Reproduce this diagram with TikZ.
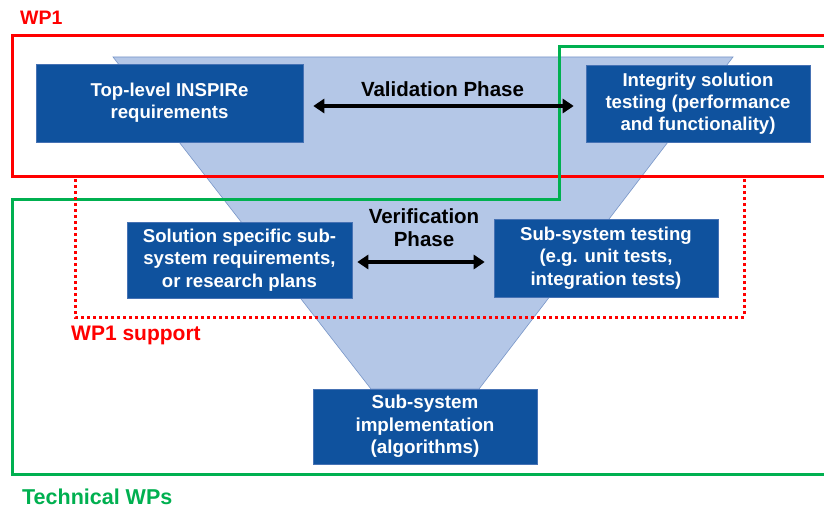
\documentclass[tikz,border=0pt]{standalone}
\usepackage{fontspec}
\setmainfont{Liberation Sans}
\usepackage{tikz}
\usetikzlibrary{arrows.meta, positioning}
\definecolor{wpred}{RGB}{255, 0, 0}
\definecolor{wpgreen}{RGB}{0, 176, 80}
\definecolor{boxblue}{RGB}{15, 82, 158}
\definecolor{boxedge}{RGB}{70, 114, 180}
\definecolor{vfill}{RGB}{180, 199, 231}
\definecolor{vedge}{RGB}{120, 150, 200}

\tikzset{
  wpbox/.style={fill=boxblue, draw=boxedge, line width=0.6pt, text=white, align=center,
    font=\bfseries\fontsize{18.6}{22.3}\selectfont, minimum width=224pt, minimum height=77pt, inner sep=1pt},
  phase/.style={font=\bfseries\fontsize{20.5}{23}\selectfont, align=center, inner sep=0pt},
  phasearrow/.style={line width=3.5pt, {Triangle[length=11pt,width=14pt]}-{Triangle[length=11pt,width=14pt]}},
  wplabel/.style={font=\bfseries\fontsize{21}{24}\selectfont, anchor=west, inner sep=0pt}
}

\begin{document}
\begin{tikzpicture}[x=1pt, y=-1pt]
  \clip (0,0) rectangle (824,508);
  \fill[white] (0,0) rectangle (824,508);
  % V funnel
  \filldraw[fill=vfill, draw=vedge, line width=0.6pt] (113,57) -- (733,57) -- (479,389) -- (371,389) -- cycle;
  % work package frames
  \draw[wpred, line width=3pt] (12,36) rectangle (840,176);
  \draw[wpgreen, line width=3pt] (840,47) -- (559,47) -- (559,199) -- (12,199) -- (12,474) -- (840,474);
  \draw[wpred, line width=3pt, dash pattern=on 3pt off 3pt] (75,179) -- (75,317) -- (744,317) -- (744,179);
  % boxes
  \node[wpbox, minimum width=267pt, minimum height=78pt] (toplevel) at (169.5,103) {Top-level INSPIRe\\requirements};
  \node[wpbox] (integrity) at (698,103.5) {Integrity solution\\testing (performance\\and functionality)};
  \node[wpbox, minimum width=225pt, minimum height=76pt] (subreq) at (239.5,260) {Solution specific sub-\\system requirements,\\or research plans};
  \node[wpbox, minimum height=78pt] (subtest) at (606,258) {Sub-system testing\\(e.g. unit tests,\\integration tests)};
  \node[wpbox, minimum height=75pt, font=\bfseries\fontsize{18.8}{22.5}\selectfont] (subimpl) at (425,426.5) {Sub-system\\implementation\\(algorithms)};
  % phases
  \node[phase] (valid) at (442.5,89) {Validation Phase};
  \node[phase] (verif) at (424,228) {Verification\\Phase};
  \draw[phasearrow, shorten <=10pt, shorten >=12pt] ([yshift=-3pt]toplevel.east) -- ([yshift=-2.5pt]integrity.west);
  \draw[phasearrow, shorten <=5pt, shorten >=9pt] ([yshift=-2pt]subreq.east) -- ([yshift=-4pt]subtest.west);
  % labels
  \node[wplabel, font=\bfseries\fontsize{19.5}{22}\selectfont, text=wpred] (wp1) at (20,18) {WP1};
  \node[wplabel, text=wpred] (wp1sup) at (71,335) {WP1 support};
  \node[wplabel, font=\bfseries\fontsize{21.5}{24}\selectfont, text=wpgreen] (techwp) at (22,497) {Technical WPs};
\end{tikzpicture}
\end{document}
